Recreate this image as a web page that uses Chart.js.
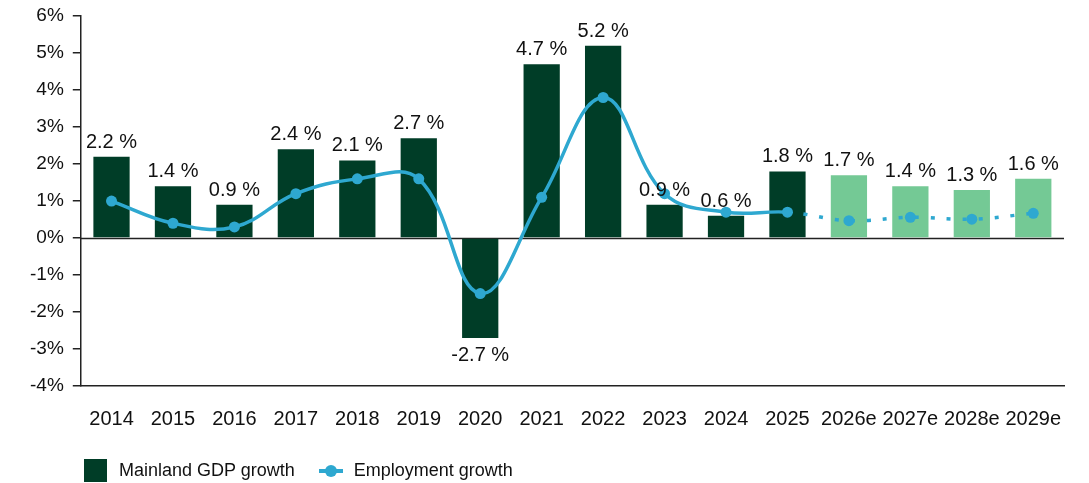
<!DOCTYPE html>
<html>
<head>
<meta charset="utf-8">
<script src="https://cdn.jsdelivr.net/npm/chart.js@4.4.1/dist/chart.umd.min.js"></script>
<style>
  html, body { margin: 0; padding: 0; background: #fff; }
  body { width: 1089px; height: 483px; overflow: hidden; font-family: "Liberation Sans", Arial, sans-serif; }
  #wrap { position: relative; width: 1089px; height: 483px; }
  #legend { position: absolute; left: 84px; top: 459px; height: 23px; display: flex; align-items: center; font-size: 18px; color: #111; }
  .lg-item { display: flex; align-items: center; margin-right: 24px; }
  .lg-box { width: 23px; height: 23px; background: #003d27; margin-right: 12px; }
  .lg-line { position: relative; width: 24px; height: 4px; background: #2ea8d0; margin-right: 11px; }
  .lg-line::after { content: ''; position: absolute; left: 6px; top: -4px; width: 12px; height: 12px; border-radius: 50%; background: #2ea8d0; }
</style>
</head>
<body>
<div id="wrap"><canvas id="chart"></canvas></div>
<div id="legend">
  <div class="lg-item"><span class="lg-box"></span>Mainland GDP growth</div>
  <div class="lg-item"><span class="lg-line"></span>Employment growth</div>
</div>
<script>
// Years, with forecasts marked "e"
const years = ['2014', '2015', '2016', '2017', '2018', '2019', '2020', '2021',
  '2022', '2023', '2024', '2025', '2026e', '2027e', '2028e', '2029e'];
// Mainland GDP growth, %
const gdpGrowth = [2.2, 1.4, 0.9, 2.4, 2.1, 2.7, -2.7, 4.7, 5.2, 0.9, 0.6, 1.8, 1.7, 1.4, 1.3, 1.6];
// Employment growth, %
const employmentGrowth = [1.0, 0.4, 0.3, 1.2, 1.6, 1.6, -1.5, 1.1, 3.8, 1.2, 0.7, 0.7, 0.47, 0.56, 0.51, 0.67];
const yTicks = [-4, -3, -2, -1, 0, 1, 2, 3, 4, 5, 6];

const firstForecast = years.findIndex(y => y.endsWith('e'));
const DARK_GREEN = '#003d27';
const LIGHT_GREEN = '#74c995';
const BLUE = '#2ea8d0';
const FONT = '"Liberation Sans", Arial, sans-serif';

// Value labels above (or below, for negatives) each bar
const barLabels = {
  id: 'barLabels',
  afterDatasetsDraw(chart) {
    const { ctx } = chart;
    const meta = chart.getDatasetMeta(1);
    ctx.save();
    ctx.font = '20px ' + FONT;
    ctx.fillStyle = '#111';
    ctx.textAlign = 'center';
    ctx.textBaseline = 'alphabetic';
    meta.data.forEach((bar, i) => {
      const v = gdpGrowth[i];
      const txt = v.toFixed(1) + ' %';
      ctx.fillText(txt, bar.x, v >= 0 ? bar.y - 9 : bar.y + 23);
    });
    ctx.restore();
  }
};

// Zero line across the plot area
const zeroLine = {
  id: 'zeroLine',
  beforeDatasetsDraw(chart) {
    const { ctx, chartArea, scales } = chart;
    const y = Math.round(scales.y.getPixelForValue(0)) + 0.5;
    ctx.save();
    ctx.strokeStyle = '#222';
    ctx.lineWidth = 1.5;
    ctx.beginPath();
    ctx.moveTo(chartArea.left, y);
    ctx.lineTo(chartArea.right, y);
    ctx.stroke();
    ctx.restore();
  }
};

new Chart(document.getElementById('chart'), {
  data: {
    labels: years,
    datasets: [
      {
        type: 'line',
        label: 'Employment growth',
        data: employmentGrowth,
        borderColor: BLUE,
        backgroundColor: BLUE,
        borderWidth: 3.5,
        pointRadius: 5.5,
        pointBackgroundColor: BLUE,
        pointBorderWidth: 0,
        tension: 0.4,
        order: 0,
        segment: {
          borderDash: ctx => ctx.p0DataIndex >= firstForecast - 1 ? [4, 12] : undefined
        }
      },
      {
        type: 'bar',
        label: 'Mainland GDP growth',
        data: gdpGrowth,
        backgroundColor: years.map((y, i) => i >= firstForecast ? LIGHT_GREEN : DARK_GREEN),
        barPercentage: 0.59,
        categoryPercentage: 1,
        order: 1
      }
    ]
  },
  options: {
    responsive: true,
    maintainAspectRatio: false,
    animation: false,
    layout: { padding: { top: 0, right: 25, left: 21, bottom: 39 } },
    plugins: {
      legend: { display: false },
      tooltip: { enabled: false }
    },
    scales: {
      x: {
        grid: { display: false },
        border: { display: true, color: '#222', width: 1.5 },
        ticks: { color: '#111', font: { family: FONT, size: 20 }, padding: 13, maxRotation: 0, autoSkip: false }
      },
      y: {
        min: -4,
        max: 6,
        afterBuildTicks: axis => { axis.ticks = yTicks.map(v => ({ value: v })); },
        grid: { drawOnChartArea: false, color: '#222', tickLength: 8, lineWidth: 1.5 },
        border: { display: true, color: '#222', width: 1.5 },
        ticks: {
          color: '#111',
          font: { family: FONT, size: 19, lineHeight: 0.75 },
          padding: 9,
          callback: v => v + '%'
        }
      }
    }
  },
  plugins: [zeroLine, barLabels]
});
</script>
</body>
</html>
